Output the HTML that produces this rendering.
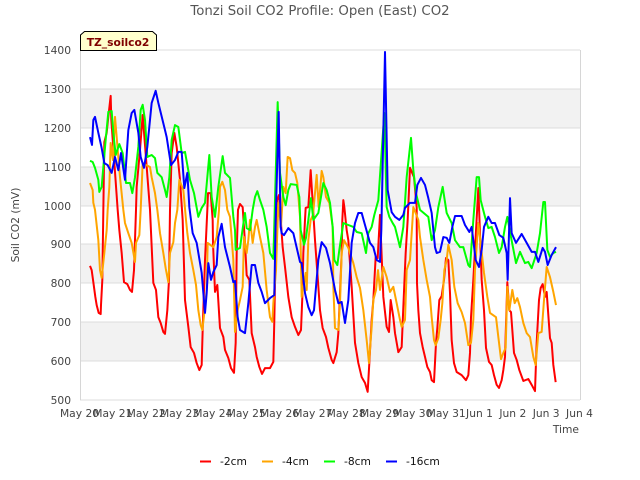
<!DOCTYPE html>
<html lang="en">
<head>
<meta charset="utf-8">
<title>Tonzi Soil CO2 Profile</title>
<style>
html,body{margin:0;padding:0;background:#fff;}
svg{display:block;font-family:"DejaVu Sans","Liberation Sans",sans-serif;}
</style>
</head>
<body>
<svg id="chart" xmlns="http://www.w3.org/2000/svg" width="640" height="480" viewBox="0 0 640 480">
  <defs><clipPath id="plot-clip"><rect x="80" y="50" width="500" height="350"></rect></clipPath></defs>
  <rect x="0" y="0" width="640" height="480" fill="#ffffff"></rect>
  <g id="bands"></g>
  <g id="grid"></g>
  <g id="series" clip-path="url(#plot-clip)"></g>
  <g id="yticks"></g>
  <g id="xticks"></g>
  <text x="320" y="15" text-anchor="middle" font-size="13.3" fill="#555555">Tonzi Soil CO2 Profile: Open (East) CO2</text>
  <text x="0" y="0" transform="translate(19,225) rotate(-90)" text-anchor="middle" font-size="10.7" fill="#444444">Soil CO2 (mV)</text>
  <text x="579" y="433" text-anchor="end" font-size="10.7" fill="#444444">Time</text>
  <g>
    <polygon points="80.5,50.5 80.5,35 84.5,31.5 152.5,31.5 156.5,35 156.5,50.5" fill="#ffffcc" stroke="#000000" stroke-width="1"></polygon>
    <text x="118" y="46" text-anchor="middle" font-size="10.7" font-weight="bold" fill="#7f0000">TZ_soilco2</text>
  </g>
  <g id="legend">
    <g>
      <line x1="200" y1="461.5" x2="211" y2="461.5" stroke="#ff0000" stroke-width="2"></line>
      <text x="220" y="465" font-size="10.7" fill="#111111">-2cm</text>
    </g>
    <g>
      <line x1="262" y1="461.5" x2="273" y2="461.5" stroke="#ffa500" stroke-width="2"></line>
      <text x="282" y="465" font-size="10.7" fill="#111111">-4cm</text>
    </g>
    <g>
      <line x1="324" y1="461.5" x2="335" y2="461.5" stroke="#00ff00" stroke-width="2"></line>
      <text x="344" y="465" font-size="10.7" fill="#111111">-8cm</text>
    </g>
    <g>
      <line x1="386" y1="461.5" x2="397" y2="461.5" stroke="#0000ff" stroke-width="2"></line>
      <text x="406" y="465" font-size="10.7" fill="#111111">-16cm</text>
    </g>
  </g>
</svg>
<script>
const yTickValues = [500,600,700,800,900,1000,1100,1200,1300,1400];
const xTickLabels = ["May 20","May 21","May 22","May 23","May 24","May 25","May 26","May 27","May 28","May 29","May 30","May 31","Jun 1","Jun 2","Jun 3","Jun 4"];

const days2 = [.30,.35,.40,.46,.50,.56,.62,.63,.67,.70,.73,.80,.85,.92,.94,1.13,1.18,1.25,1.32,1.42,1.50,1.56,1.62,1.68,1.70,1.80,1.88,2.10,2.20,2.28,2.35,2.42,2.50,2.55,2.62,2.67,2.70,2.75,2.83,2.90,3.00,3.08,3.15,3.25,3.32,3.42,3.50,3.58,3.65,3.68,3.75,3.82,3.84,3.92,3.98,3.99,4.05,4.12,4.20,4.30,4.35,4.45,4.53,4.62,4.67,4.70,4.74,4.80,4.88,4.95,5.00,5.08,5.15,5.25,5.30,5.38,5.46,5.55,5.70,5.80,5.83,5.86,5.91,5.97,6.08,6.15,6.25,6.35,6.45,6.55,6.63,6.67,6.70,6.75,6.77,6.85,6.92,7.05,7.13,7.20,7.28,7.38,7.45,7.55,7.60,7.70,7.75,7.80,7.85,7.87,7.90,7.93,8.00,8.05,8.15,8.25,8.35,8.45,8.55,8.63,8.68,8.75,8.80,8.87,8.93,9.00,9.10,9.20,9.27,9.32,9.40,9.45,9.55,9.65,9.70,9.77,9.83,9.90,10.02,10.10,10.11,10.15,10.20,10.28,10.35,10.42,10.50,10.55,10.62,10.68,10.72,10.78,10.85,10.92,10.98,11.05,11.10,11.15,11.22,11.30,11.45,11.58,11.65,11.70,11.73,11.80,11.95,12.05,12.12,12.18,12.27,12.35,12.42,12.50,12.57,12.65,12.70,12.75,12.82,12.88,12.93,13.02,13.10,13.18,13.30,13.45,13.55,13.65,13.70,13.77,13.82,13.88,13.95,14.00,14.06,14.10,14.15,14.20,14.27];
const values2 = [845,834,803,765,744,724,721,744,809,989,1163,1187,1228,1282,1220,989,937,878,803,798,783,778,834,989,1048,1143,1233,989,801,783,713,698,675,670,731,809,989,1135,1187,1151,1066,963,757,688,636,621,595,577,590,680,860,989,1032,1032,963,904,778,796,685,662,629,608,582,570,647,878,989,1004,996,904,821,809,672,636,611,585,567,582,582,598,706,852,1014,1027,893,842,765,713,688,667,680,765,878,963,994,996,1091,911,816,731,685,662,634,603,595,623,672,775,878,963,1014,996,937,911,791,647,595,559,544,521,595,706,757,868,865,976,765,688,675,757,713,672,623,636,739,878,963,1097,1073,996,801,731,672,636,611,585,572,551,546,647,685,757,767,809,865,860,775,654,595,572,564,551,564,621,713,809,1045,809,731,634,598,590,564,539,531,551,577,611,803,731,726,621,603,577,549,554,539,523,647,757,788,798,765,778,706,659,647,590,546];

const days4 = [.30,.38,.40,.45,.55,.60,.65,.73,.80,.83,.88,.92,.99,1.05,1.10,1.20,1.30,1.35,1.45,1.55,1.65,1.68,1.78,1.82,1.88,2.10,2.15,2.25,2.32,2.40,2.50,2.57,2.65,2.70,2.80,2.85,2.92,2.98,3.10,3.18,3.22,3.30,3.40,3.48,3.55,3.62,3.67,3.73,3.80,3.83,4.00,4.10,4.17,4.20,4.27,4.35,4.42,4.50,4.60,4.65,4.73,4.80,4.88,4.92,5.00,5.05,5.10,5.18,5.25,5.30,5.40,5.50,5.60,5.70,5.77,5.80,5.88,5.95,6.03,6.10,6.17,6.23,6.30,6.37,6.45,6.52,6.60,6.63,6.65,6.77,6.80,6.85,6.92,6.99,7.10,7.16,7.25,7.30,7.38,7.48,7.58,7.60,7.65,7.75,7.80,7.85,7.92,8.05,8.20,8.30,8.40,8.50,8.60,8.67,8.75,8.80,8.88,8.94,9.00,9.10,9.20,9.30,9.40,9.50,9.60,9.65,9.75,9.80,9.90,10.00,10.15,10.20,10.30,10.40,10.50,10.55,10.62,10.67,10.75,10.82,10.87,10.93,11.00,11.05,11.15,11.23,11.33,11.45,11.55,11.65,11.73,11.80,11.85,11.95,12.12,12.22,12.30,12.48,12.55,12.63,12.70,12.77,12.82,12.88,12.97,13.04,13.12,13.20,13.30,13.40,13.50,13.60,13.67,13.75,13.85,13.92,14.00,14.10,14.20,14.28];
const values4 = [1058,1040,1007,989,911,834,814,878,937,989,1048,1161,1117,1228,1176,1073,989,955,929,904,855,904,924,989,1109,1099,1073,1032,989,929,878,839,803,878,906,955,989,1066,1040,963,929,878,834,796,731,693,680,724,783,904,893,919,989,1048,1061,1040,989,971,860,675,731,757,791,919,878,911,963,904,945,963,919,878,783,713,701,749,834,1007,947,1048,1032,1125,1122,1091,1084,1058,971,852,765,827,783,911,963,976,1079,996,1089,1073,1022,1007,945,791,685,680,749,878,911,891,852,816,788,731,654,595,688,757,783,834,783,842,816,778,791,749,706,688,706,834,860,996,963,919,860,809,765,713,654,641,659,706,749,834,860,899,860,791,749,726,698,641,647,706,834,955,827,765,724,713,662,605,621,634,791,731,783,749,762,739,698,672,662,611,590,672,675,757,842,816,778,744];

const days8 = [.30,.38,.45,.55,.58,.65,.70,.77,.85,.95,1.00,1.07,1.18,1.28,1.38,1.50,1.57,1.65,1.75,1.82,1.88,1.95,2.02,2.15,2.25,2.32,2.45,2.55,2.60,2.68,2.75,2.85,2.95,3.05,3.15,3.30,3.42,3.55,3.65,3.75,3.88,3.95,4.05,4.15,4.28,4.35,4.50,4.60,4.65,4.67,4.80,4.93,4.95,5.00,5.10,5.18,5.25,5.32,5.40,5.50,5.60,5.70,5.80,5.85,5.93,6.00,6.10,6.17,6.25,6.32,6.50,6.58,6.62,6.72,6.78,6.85,6.93,7.00,7.15,7.30,7.40,7.50,7.58,7.63,7.72,7.78,7.90,8.05,8.20,8.30,8.45,8.58,8.65,8.75,8.83,8.95,9.13,9.20,9.28,9.38,9.45,9.60,9.70,9.80,9.93,10.00,10.08,10.20,10.45,10.55,10.65,10.75,10.88,11.00,11.15,11.25,11.40,11.50,11.65,11.70,11.80,11.90,11.97,12.02,12.15,12.25,12.35,12.45,12.57,12.65,12.75,12.82,12.93,13.08,13.20,13.35,13.45,13.55,13.70,13.80,13.90,13.95,14.02,14.10,14.20,14.28];
const values8 = [1115,1112,1097,1066,1035,1048,1099,1169,1241,1243,1187,1130,1158,1135,1058,1058,1032,1073,1151,1246,1259,1220,1125,1130,1122,1084,1073,1040,1022,1073,1169,1207,1202,1135,1138,1066,1032,971,994,1007,1130,1022,971,1048,1127,1084,1071,971,937,886,891,971,981,942,937,989,1022,1037,1014,989,945,878,863,1014,1266,1084,1022,1001,1040,1055,1053,1022,937,899,917,963,1019,963,981,1058,1040,1007,945,860,847,886,955,950,945,932,929,878,929,945,976,1014,1238,996,971,955,945,893,945,1073,1174,1091,1032,989,971,911,937,996,1048,981,955,911,893,893,847,842,963,1073,1073,1014,971,942,945,919,878,893,945,971,919,852,881,852,855,839,878,929,1009,1009,886,868,878,881];

const days16 = [.30,.36,.40,.45,.55,.65,.73,.83,.95,1.05,1.15,1.23,1.35,1.45,1.55,1.63,1.75,1.82,1.92,2.02,2.15,2.27,2.35,2.55,2.60,2.73,2.85,2.95,3.05,3.13,3.22,3.28,3.38,3.50,3.65,3.75,3.80,3.85,3.93,4.00,4.10,4.15,4.25,4.35,4.50,4.60,4.65,4.73,4.80,4.95,5.05,5.15,5.25,5.35,5.45,5.55,5.70,5.83,5.87,5.96,6.02,6.05,6.12,6.25,6.40,6.60,6.65,6.75,6.85,6.95,7.02,7.15,7.25,7.38,7.50,7.65,7.75,7.85,7.95,8.05,8.15,8.25,8.35,8.45,8.55,8.70,8.80,8.90,9.00,9.04,9.15,9.23,9.35,9.45,9.58,9.70,9.75,9.90,10.05,10.12,10.23,10.35,10.45,10.55,10.65,10.70,10.80,10.90,11.00,11.08,11.17,11.25,11.45,11.55,11.68,11.75,11.87,11.97,12.05,12.12,12.25,12.35,12.45,12.58,12.70,12.80,12.83,12.90,12.95,13.08,13.25,13.40,13.55,13.65,13.75,13.88,13.95,14.03,14.15,14.28];
const values16 = [1176,1156,1220,1228,1187,1148,1109,1104,1084,1125,1091,1135,1066,1194,1238,1246,1187,1125,1097,1151,1264,1295,1264,1194,1176,1104,1117,1138,1138,1045,1084,996,929,904,827,724,775,852,809,829,847,919,953,893,842,803,806,713,680,672,749,847,847,801,778,749,762,770,963,1241,945,929,924,942,929,855,852,775,739,718,731,860,906,891,852,783,749,752,698,757,904,955,981,981,950,904,893,860,855,937,1395,1040,983,971,963,976,994,1007,1007,1053,1071,1053,1019,981,893,878,881,919,917,904,945,973,973,950,932,945,860,842,886,945,971,955,955,924,917,878,809,1019,929,904,927,904,881,881,855,891,881,847,873,893];

const SVG_NS = "http://www.w3.org/2000/svg";
const plot = { left: 80, right: 580, top: 50, bottom: 400 };
const yMin = 500, yMax = 1400, xMaxDays = 15;

function xScale(day) {
  return plot.left + (day / xMaxDays) * (plot.right - plot.left);
}
function yScale(value) {
  return plot.bottom - ((value - yMin) / (yMax - yMin)) * (plot.bottom - plot.top);
}
function svgEl(tag, attrs) {
  const el = document.createElementNS(SVG_NS, tag);
  Object.keys(attrs).forEach(function (k) { el.setAttribute(k, attrs[k]); });
  return el;
}

const bandsG = document.getElementById("bands");
const gridG = document.getElementById("grid");
const yTicksG = document.getElementById("yticks");
const xTicksG = document.getElementById("xticks");
const seriesG = document.getElementById("series");

for (let i = 1; i < yTickValues.length - 1; i += 2) {
  const top = yScale(yTickValues[i + 1]);
  const band = svgEl("rect", { x: plot.left, y: top, width: plot.right - plot.left, height: yScale(yTickValues[i]) - top, fill: "#f2f2f2" });
  
  
  bandsG.appendChild(band);
}

yTickValues.forEach(function (v) {
  const y = Math.round(yScale(v)) + 0.5;
  const line = svgEl("line", { x1: plot.left, x2: plot.right, y1: y - 0.5, y2: y - 0.5, stroke: "#dcdcdc", "stroke-width": 1 });
  
  
  gridG.appendChild(line);
  const label = svgEl("text", { x: 71, y: y + 3.5, "text-anchor": "end", "font-size": 10.7, fill: "#444444" });
  label.textContent = String(v);
  
  
  yTicksG.appendChild(label);
});

const leftAxis = svgEl("line", { x1: plot.left + 0.5, x2: plot.left + 0.5, y1: plot.top, y2: plot.bottom, stroke: "#d6d6d6", "stroke-width": 1 });


gridG.appendChild(leftAxis);
const rightAxis = svgEl("line", { x1: plot.right + 0.5, x2: plot.right + 0.5, y1: plot.top, y2: plot.bottom, stroke: "#d6d6d6", "stroke-width": 1 });


gridG.appendChild(rightAxis);

xTickLabels.forEach(function (t, i) {
  const label = svgEl("text", { x: xScale(i) - 0.5, y: 417, "text-anchor": "middle", "font-size": 10.7, fill: "#444444" });
  label.textContent = t;
  
  
  xTicksG.appendChild(label);
});

function drawSeries(days, values, color, name) {
  const pts = days.map(function (d, i) {
    return xScale(d).toFixed(2) + "," + yScale(values[i]).toFixed(2);
  }).join(" ");
  const line = svgEl("polyline", { points: pts, fill: "none", stroke: color, "stroke-width": 2, "stroke-linejoin": "round", "stroke-linecap": "butt" });
  
  
  seriesG.appendChild(line);
}
drawSeries(days2, values2, "#ff0000", "series-2cm");
drawSeries(days4, values4, "#ffa500", "series-4cm");
drawSeries(days8, values8, "#00ff00", "series-8cm");
drawSeries(days16, values16, "#0000ff", "series-16cm");
</script>
</body>
</html>
